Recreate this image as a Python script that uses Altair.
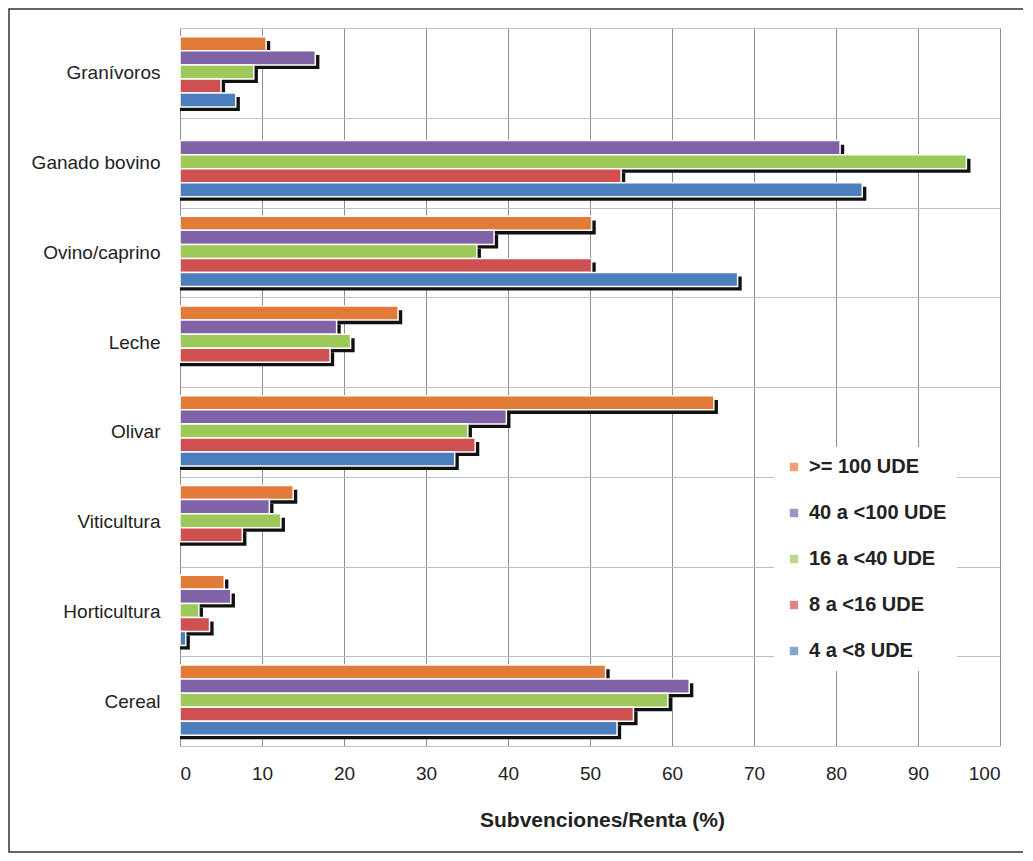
import altair as alt
import pandas as pd

categories = ["Granívoros", "Ganado bovino", "Ovino/caprino", "Leche",
              "Olivar", "Viticultura", "Horticultura", "Cereal"]
series = [">= 100 UDE", "40 a <100 UDE", "16 a <40 UDE", "8 a <16 UDE", "4 a <8 UDE"]
colors = ["#E27A38", "#7F63A6", "#9DC85A", "#CF5050", "#4C7EBE"]

v_100 = [10.5, None, 50.2, 26.6, 65.1, 13.8, 5.4, 51.9]
v_40 = [16.5, 80.5, 38.3, 19.1, 39.8, 10.9, 6.2, 62.1]
v_16 = [9.0, 95.9, 36.2, 20.8, 35.1, 12.3, 2.3, 59.5]
v_8 = [5.0, 53.8, 50.2, 18.3, 36.0, 7.6, 3.6, 55.3]
v_4 = [6.8, 83.2, 68.0, None, 33.5, None, 0.7, 53.3]

x_ticks = [0, 10, 20, 30, 40, 50, 60, 70, 80, 90, 100]

rows = []
for s, vals in zip(series, [v_100, v_40, v_16, v_8, v_4]):
    for c, v in zip(categories, vals):
        if v is not None:
            rows.append({"cat": c, "series": s, "value": v})
df = pd.DataFrame(rows)

FONT = "Liberation Sans"

y_enc = alt.Y("cat:N", sort=categories,
              scale=alt.Scale(paddingInner=0, paddingOuter=0),
              axis=alt.Axis(title=None, labelFontSize=19, labelFont=FONT,
                            labelColor="#222222", labelPadding=20, ticks=False,
                            domain=False, grid=True, tickBand="extent",
                            gridColor="#B9BDD6", gridWidth=1, labelLimit=200))


def yoff(align):
    return alt.YOffset("series:N", sort=series,
                       scale=alt.Scale(domain=series, paddingInner=0,
                                       paddingOuter=0.7, align=align))


def x_axis():
    return alt.Axis(values=x_ticks, title="Subvenciones/Renta (%)",
                    labelFontSize=19, labelFont=FONT, labelColor="#222222",
                    labelPadding=18, ticks=False, domain=False, grid=True,
                    gridColor="#8E8E8E", gridWidth=1,
                    titleFontSize=21, titleFont=FONT, titleFontWeight="bold",
                    titleColor="#222222", titlePadding=26, titleX=422)


base = alt.Chart(df)

shadow = base.transform_calculate(sv="datum.value + 0.5").mark_bar(
    color="#111111"
).encode(
    y=y_enc,
    yOffset=yoff(0.66),
    x=alt.X("sv:Q", scale=alt.Scale(domain=[0, 100], nice=False), axis=x_axis()),
)

bars = base.mark_bar(stroke="white", strokeWidth=1.5).encode(
    y=y_enc,
    yOffset=yoff(0.45),
    x=alt.X("value:Q", scale=alt.Scale(domain=[0, 100], nice=False), axis=x_axis()),
    color=alt.Color("series:N", sort=series,
                    scale=alt.Scale(domain=series, range=colors),
                    legend=alt.Legend(orient="none", legendX=594, legendY=419,
                                      title=None, labelFontSize=20,
                                      labelFontWeight="bold", labelFont=FONT,
                                      labelColor="#222222",
                                      symbolType="square", symbolSize=70,
                                      symbolOpacity=0.7, symbolStrokeWidth=0,
                                      rowPadding=26, fillColor="white",
                                      padding=10, labelOffset=5)),
)

frame = alt.Chart(alt.Data(values=[{"a": 1}])).mark_rect(
    fill="transparent", stroke="#333333", strokeWidth=1.5
).encode(
    x=alt.value(-171), x2=alt.value(844),
    y=alt.value(-19), y2=alt.value(824),
)

chart = alt.layer(shadow, bars, frame).resolve_scale(
    yOffset="independent"
).properties(
    width=820, height=718,
    autosize=alt.AutoSizeParams(type="none"),
    padding={"left": 172, "top": 20, "right": 23, "bottom": 107},
    background="white",
).configure_view(strokeWidth=0)

chart.save("out.html", embed_options={"renderer": "svg", "actions": False})
